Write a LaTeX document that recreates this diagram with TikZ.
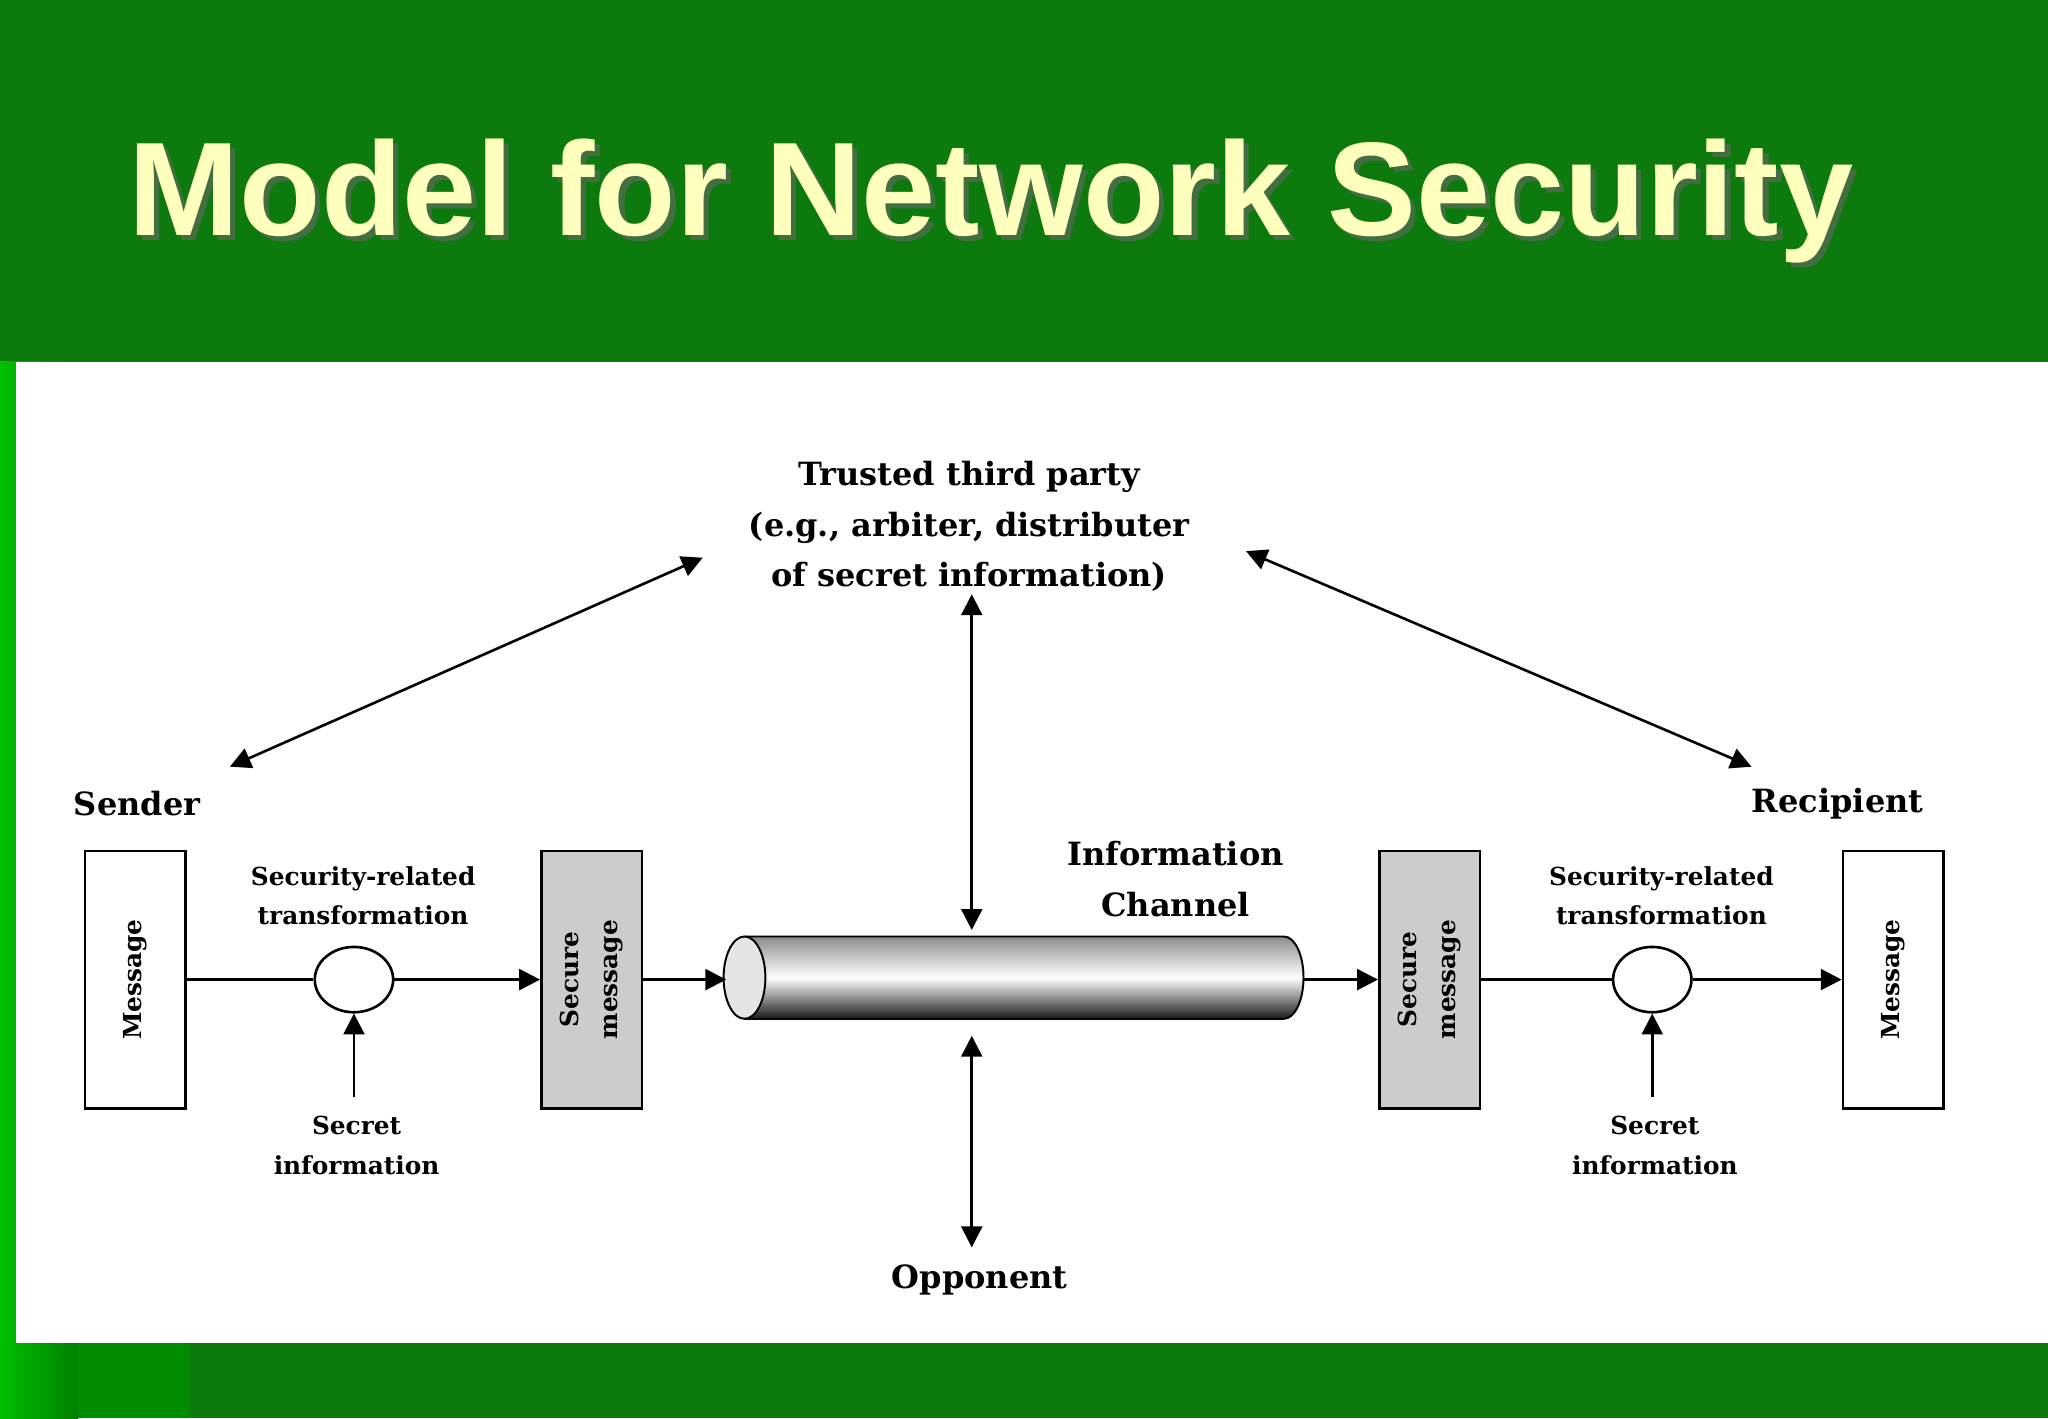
\documentclass[tikz,border=0pt]{standalone}
\usepackage{fontspec}
\setmainfont{DejaVu Serif}
\newfontfamily\titlefont{Liberation Sans}
\usetikzlibrary{arrows.meta,shapes.geometric}
\begin{document}
\begin{tikzpicture}[x=1pt,y=-1pt,
  box/.style={draw,line width=2pt,minimum width=77pt,minimum height=197pt,inner sep=0pt},
  lbl/.style={font=\bfseries\fontsize{19}{30}\selectfont,align=center},
  big/.style={font=\bfseries\fontsize{24.5}{39}\selectfont,align=center},
  ln/.style={line width=2pt},
  ar/.style={line width=2pt,-{Triangle[length=16pt,width=16pt]}},
  dar/.style={line width=2pt,{Triangle[length=16pt,width=16pt]}-{Triangle[length=16pt,width=16pt]}}]
\useasboundingbox (0,0) rectangle (1568,1086);
\fill[green!45!black!95] (0,0) rectangle (1568,1086);
\fill[left color=green!75!black,right color=green!50!black] (0,277) rectangle (60,1086);
\fill[green!55!black] (60,1028) rectangle (145,1086);
\fill[white] (12,277) rectangle (1568,1028);
\fill[black!60,opacity=0.6] (99,158) node[anchor=west,font=\titlefont\bfseries\fontsize{102}{110}\selectfont] {Model for Network Security};
\node[anchor=west,font=\titlefont\bfseries\fontsize{102}{110}\selectfont,text={rgb,255:red,255;green,255;blue,190}] (title) at (95,154) {Model for Network Security};
% boxes
\node[box] (m1) at (103.5,750) {};
\node[rotate=90,lbl] at (m1) {Message};
\node[box,fill=black!20] (s1) at (453,750) {};
\node[rotate=90,lbl] at (s1) {Secure\\message};
\node[box,fill=black!20] (s2) at (1094.5,750) {};
\node[rotate=90,lbl] at (s2) {Secure\\message};
\node[box] (m2) at (1449.5,750) {};
\node[rotate=90,lbl] at (m2) {Message};
\node[ellipse,draw,line width=2pt,minimum width=60pt,minimum height=50pt] (c1) at (271,750) {};
\node[ellipse,draw,line width=2pt,minimum width=60pt,minimum height=50pt] (c2) at (1265,750) {};
% cylinder
\shade[top color=black!45,bottom color=black!90,middle color=white] (570,717) -- (983,717) arc[start angle=-90,end angle=90,x radius=15,y radius=31.5] -- (570,780) -- cycle;
\draw[line width=1.5pt] (570,717) -- (983,717) arc[start angle=-90,end angle=90,x radius=15,y radius=31.5] -- (570,780);
\draw[line width=1.5pt,fill=black!10] (570,748.5) ellipse[x radius=16,y radius=31.5];
\coordinate (cylL) at (556,750);
\coordinate (cylR) at (998,750);
\coordinate (cylT) at (744,712);
\coordinate (cylB) at (744,793);
% lines
\draw[ln] (m1.east) -- (c1.west);
\draw[ar] (c1.east) -- (s1.west);
\draw[ar] (s1.east) -- (cylL);
\draw[ar] (cylR) -- (s2.west);
\draw[ln] (s2.east) -- (c2.west);
\draw[ar] (c2.east) -- (m2.west);
% labels
\node[lbl] at (278,686) {Security-related\\transformation};
\node[lbl] at (1272,686) {Security-related\\transformation};
\node[lbl] (si1) at (273,877) {Secret\\information};
\node[lbl] (si2) at (1267,877) {Secret\\information};
\coordinate (si1t) at (271,840);
\coordinate (si2t) at (1265,840);
\draw[ar] (si1t) -- (c1.south);
\draw[ar] (si2t) -- (c2.south);
\node[big] at (105,615) {Sender};
\node[big] at (1407,615) {Recipient};
\node[big] at (900,673) {Information\\Channel};
\node[big] (opp) at (750,980) {Opponent};
\node[big] (ttp) at (742,403) {Trusted third party\\(e.g., arbiter, distributer\\of secret information)};
\coordinate (ttpB) at (744,455);
\coordinate (oppT) at (744,955);
\coordinate (sendA) at (176,587);
\coordinate (ttpL) at (538,427);
\coordinate (ttpR) at (954,422);
\coordinate (recA) at (1341,587);
\draw[dar] (sendA) -- (ttpL);
\draw[dar] (ttpR) -- (recA);
\draw[dar] (ttpB) -- (cylT);
\draw[dar] (cylB) -- (oppT);
\end{tikzpicture}
\end{document}
